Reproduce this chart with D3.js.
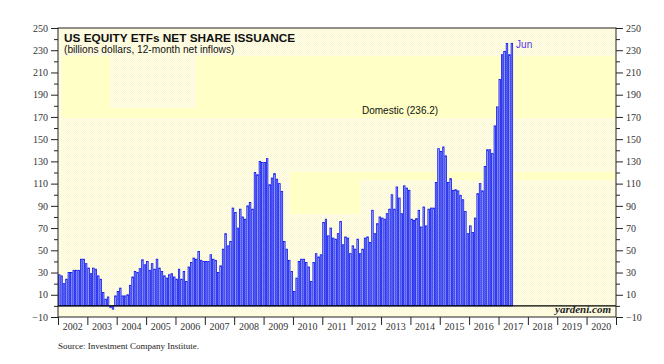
<!DOCTYPE html>
<html><head><meta charset="utf-8">
<script src="https://cdn.jsdelivr.net/npm/d3@7/dist/d3.min.js"></script>
<style>
html,body{margin:0;padding:0;background:#fff;}
svg{display:block;}
</style></head>
<body>
<svg id="chart" width="664" height="364"></svg>
<script>
// ---- data (billions $, 12-month net inflows, monthly from Jan 2002 to Jun 2017) ----
const startYear = 2002;
const flows2002 = [28, 27, 20, 24, 30, 30, 32, 32, 32, 42, 42, 38];
const flows2003 = [34, 29, 34, 33, 27, 24, 12, 6, 8, -1.5, -3, 9];
const flows2004 = [13, 16, 9, 9, 10, 18.5, 26, 31, 30, 33.5, 41.5, 37];
const flows2005 = [40, 32, 38, 33, 42, 34, 31, 27, 25, 28, 29, 26];
const flows2006 = [24, 33, 24, 31, 22, 35, 39, 43, 42, 49, 41, 40];
const flows2007 = [40, 40, 46, 42, 41, 30, 36, 51, 65, 54, 58, 88];
const flows2008 = [84, 70, 87, 80, 78, 90, 93, 87, 120, 118, 130, 129];
const flows2009 = [129, 132.5, 109, 115, 119, 114, 110, 103, 58, 51, 41, 31];
const flows2010 = [13, 25, 40, 42, 42, 39, 35, 22, 39, 47, 44, 46];
const flows2011 = [75, 78, 63, 70, 61, 60, 65, 76, 55, 62, 61, 47];
const flows2012 = [54, 51, 60, 47, 51, 61, 62, 57, 86, 65, 74, 80];
const flows2013 = [79, 78, 83, 87, 100, 87, 107, 97, 83, 108, 106, 104];
const flows2014 = [78, 77, 78.5, 86, 71, 89, 72, 87, 88, 88, 111, 141.5];
const flows2015 = [139, 143, 135, 111, 114.5, 104, 104.5, 103.5, 99.5, 95.5, 85, 65];
const flows2016 = [72, 66, 79, 101, 110, 103.5, 125.5, 140.5, 140.5, 137, 162, 179];
const flows2017 = [203.6, 226, 229, 236, 226, 236.2];
const flowsByYear = [flows2002, flows2003, flows2004, flows2005, flows2006, flows2007, flows2008,
  flows2009, flows2010, flows2011, flows2012, flows2013, flows2014, flows2015, flows2016, flows2017];
const yearLabels = ["2002","2003","2004","2005","2006","2007","2008","2009","2010","2011",
  "2012","2013","2014","2015","2016","2017","2018","2019","2020"];
const yMajorTicks = [-10, 10, 30, 50, 70, 90, 110, 130, 150, 170, 190, 210, 230, 250];
const yMinorTicks = [0, 20, 40, 60, 80, 100, 120, 140, 160, 180, 200, 220, 240];
const titleText = "US EQUITY ETFs NET SHARE ISSUANCE";
const subtitleText = "(billions dollars, 12-month net inflows)";
const seriesLabel = "Domestic (236.2)";
const lastLabel = "Jun";
const sourceText = "Source: Investment Company Institute.";
const brandText = "yardeni.com";

// ---- build records ----
const records = [];
flowsByYear.forEach((arr, yi) => arr.forEach((v, m) => {
  records.push({date: new Date(Date.UTC(startYear + yi, m, 1)), value: v});
}));

// ---- layout ----
const L = 58, R = 616, T = 28, B = 317;
const svg = d3.select("#chart");

const x = d3.scaleUtc()
  .domain([new Date(Date.UTC(2002,0,1)), new Date(Date.UTC(2021,0,1))])
  .range([L, R]);
const y = d3.scaleLinear().domain([-10, 250]).range([B, T]);

// background
const defs = svg.append("defs");
const pat = defs.append("pattern").attr("id","stip").attr("width",2).attr("height",2)
  .attr("patternUnits","userSpaceOnUse");
pat.append("rect").attr("width",2).attr("height",2).attr("fill","#fffef2");
pat.append("rect").attr("width",1).attr("height",1).attr("fill","#fcf8cc");
pat.append("rect").attr("x",1).attr("y",1).attr("width",1).attr("height",1).attr("fill","#fcf8cc");

const bpat = defs.append("pattern").attr("id","barpat").attr("width",2).attr("height",2)
  .attr("patternUnits","userSpaceOnUse");
bpat.append("rect").attr("width",2).attr("height",2).attr("fill","#bcc3ff");
bpat.append("rect").attr("width",1).attr("height",1).attr("fill","#9fa8f6");
bpat.append("rect").attr("x",1).attr("y",1).attr("width",1).attr("height",1).attr("fill","#9fa8f6");

svg.append("rect").attr("x",L).attr("y",T).attr("width",R-L).attr("height",B-T)
  .attr("fill","url(#stip)");

// highlight patches (label backgrounds in the original)
const patches = [
  [62, 56, 110, 108], [196, 56, 615, 108], [62, 108, 615, 118],
  [290, 172, 615, 180], [290, 180, 360, 214]
];
svg.append("g").selectAll("rect").data(patches).join("rect")
  .attr("x", d => d[0]).attr("y", d => d[1])
  .attr("width", d => d[2]-d[0]).attr("height", d => d[3]-d[1])
  .attr("fill", "#ffffc6");

// bars
svg.append("g").selectAll("rect").data(records).join("rect")
  .attr("x", d => x(d.date) + 0.45)
  .attr("width", d => Math.max(0.5, x(d3.utcMonth.offset(d.date,1)) - x(d.date) - 0.9))
  .attr("y", d => y(Math.max(0, d.value)))
  .attr("height", d => Math.abs(y(d.value) - y(0)))
  .attr("fill", "url(#barpat)")
  .attr("stroke", "#0a14f0")
  .attr("stroke-width", 0.8);

// zero line
svg.append("line").attr("x1",L).attr("x2",R).attr("y1",y(0)).attr("y2",y(0))
  .attr("stroke","#000").attr("stroke-width",1.3);

// frame
svg.append("rect").attr("x",L).attr("y",T).attr("width",R-L).attr("height",B-T)
  .attr("fill","none").attr("stroke","#222").attr("stroke-width",1);

// y axes
function styleAxis(g){
  g.select(".domain").remove();
  g.selectAll("text").attr("font-family","'Liberation Serif', serif").attr("font-size",10).attr("fill","#333");
  g.selectAll("line").attr("stroke","#222");
}
svg.append("g").attr("transform",`translate(${L},0)`)
  .call(d3.axisLeft(y).tickValues(yMajorTicks).tickSize(7).tickPadding(3).tickFormat(d3.format("d")))
  .call(styleAxis);
svg.append("g").attr("transform",`translate(${L},0)`)
  .call(d3.axisLeft(y).tickValues(yMinorTicks).tickSize(4).tickFormat(""))
  .call(styleAxis);
svg.append("g").attr("transform",`translate(${R},0)`)
  .call(d3.axisRight(y).tickValues(yMajorTicks).tickSize(7).tickPadding(3).tickFormat(d3.format("d")))
  .call(styleAxis);
svg.append("g").attr("transform",`translate(${R},0)`)
  .call(d3.axisRight(y).tickValues(yMinorTicks).tickSize(4).tickFormat(""))
  .call(styleAxis);

// x axis: year boundary ticks + centered labels
const yearStarts = yearLabels.map(s => new Date(Date.UTC(+s,0,1)));
yearStarts.push(new Date(Date.UTC(2021,0,1)));
svg.append("g").attr("transform",`translate(0,${B})`)
  .call(d3.axisBottom(x).tickValues(yearStarts).tickSize(8).tickFormat(""))
  .call(g => { g.select(".domain").remove(); g.selectAll("line").attr("stroke","#222"); });
svg.append("g").selectAll("text").data(yearLabels).join("text")
  .attr("x", d => (x(new Date(Date.UTC(+d,0,1))) + x(new Date(Date.UTC(+d+1,0,1))))/2)
  .attr("y", B + 13)
  .attr("text-anchor","middle")
  .attr("font-family","'Liberation Serif', serif").attr("font-size",10).attr("fill","#333")
  .text(d => d);

// texts
svg.append("text").attr("x",64).attr("y",42).attr("font-family","'Liberation Sans', Arial, sans-serif")
  .attr("font-weight","bold").attr("font-size",11.8).attr("fill","#111").text(titleText);
svg.append("text").attr("x",64).attr("y",53).attr("font-family","'Liberation Sans', Arial, sans-serif")
  .attr("font-size",10.2).attr("fill","#111").text(subtitleText);
svg.append("text").attr("x",362).attr("y",114).attr("font-family","'Liberation Sans', Arial, sans-serif")
  .attr("font-size",10).attr("fill","#111").text(seriesLabel);
const last = records[records.length-1];
svg.append("text").attr("x", x(d3.utcMonth.offset(last.date,1)) + 3).attr("y", y(last.value) + 5)
  .attr("font-family","'Liberation Sans', Arial, sans-serif")
  .attr("font-size",10).attr("fill","#5533ee").text(lastLabel);
svg.append("text").attr("x",611).attr("y",313).attr("text-anchor","end")
  .attr("font-family","'Liberation Serif', serif").attr("font-style","italic").attr("font-weight","bold")
  .attr("font-size",11).attr("fill","#222").text(brandText);
svg.append("text").attr("x",58).attr("y",349)
  .attr("font-family","'Liberation Serif', serif").attr("font-size",9).attr("fill","#222").text(sourceText);
</script>
</body></html>
